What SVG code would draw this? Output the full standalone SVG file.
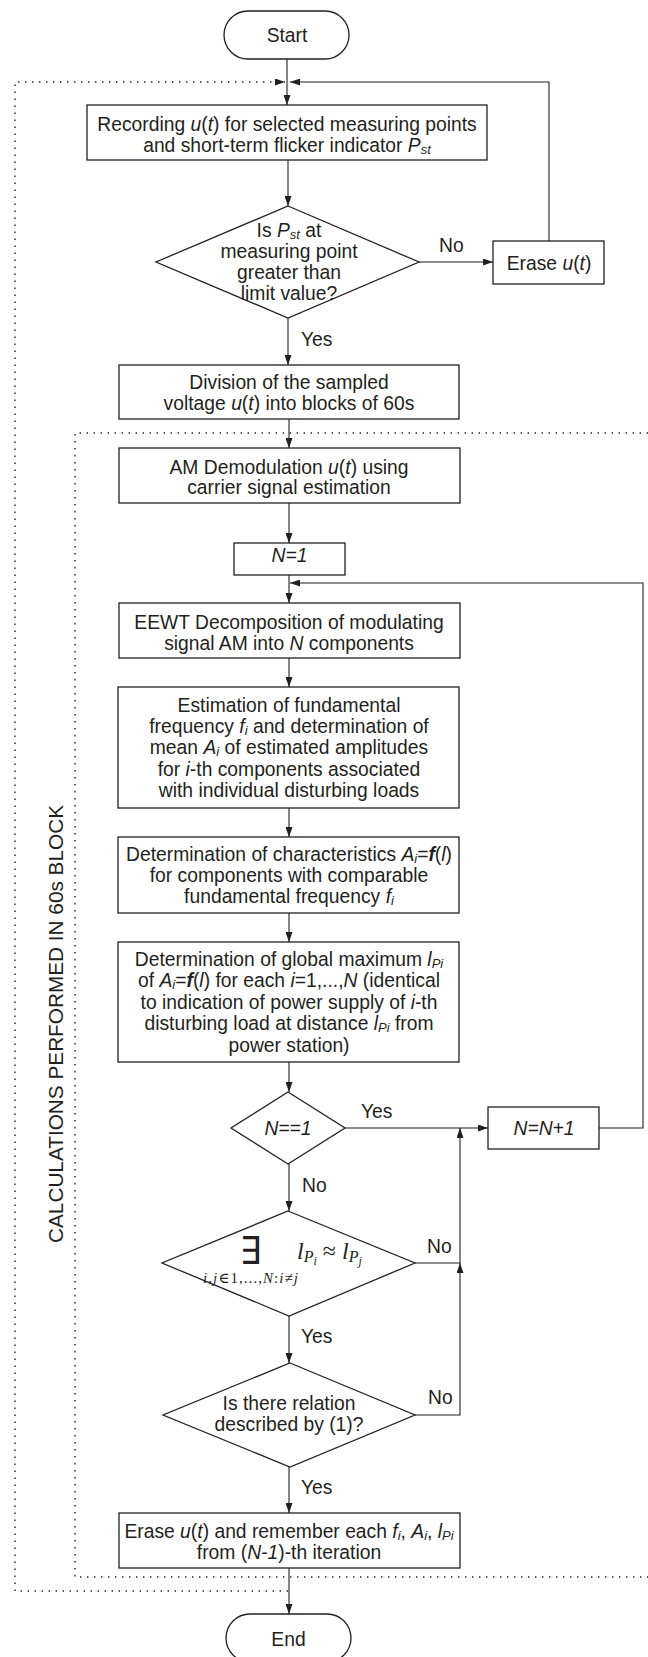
<svg xmlns="http://www.w3.org/2000/svg" width="648" height="1657" viewBox="0 0 648 1657">
  <style>
    .t { font-family: "Liberation Sans", Arial, Helvetica, sans-serif; font-size: 19.3px; fill: #231f20; text-anchor: middle; }
    .l { text-anchor: start; }
    .it { font-style: italic; }
    .bi { font-style: italic; font-weight: bold; }
    .sb { font-style: italic; font-size: 13px; }
    .box { fill: #ffffff; stroke: #231f20; stroke-width: 1.3; }
    .ln { fill: none; stroke: #231f20; stroke-width: 1.1; }
    .dot { fill: none; stroke: #231f20; stroke-width: 1.4; stroke-dasharray: 1.4 5.6; }
    .m { font-family: "Liberation Serif", "DejaVu Serif", serif; fill: #231f20; font-style: italic; }
  </style>
  <defs>
    <marker id="arr" markerUnits="userSpaceOnUse" markerWidth="10" markerHeight="7" refX="10" refY="3.5" orient="auto">
      <path d="M0,0 L10,3.5 L0,7 Z" fill="#231f20"/>
    </marker>
  </defs>

  <rect width="648" height="1657" fill="#ffffff"/>

  <!-- block frames -->
  <g id="frames">
    <path class="dot" d="M288,1591 H15 V82 H285" marker-end="url(#arr)"/>
    <path class="dot" d="M648,433 H75 V1577 H648"/>
    <text class="t" x="63" y="1024" font-size="20.5" textLength="438" lengthAdjust="spacingAndGlyphs" transform="rotate(-90 63 1024)">CALCULATIONS PERFORMED IN 60s BLOCK</text>
  </g>

  <!-- connectors -->
  <g id="connectors">
    <path class="ln" d="M287,59 V105" marker-end="url(#arr)"/>
    <path class="ln" d="M549,241 V82 H290" marker-end="url(#arr)"/>
    <path class="ln" d="M288,160 V206" marker-end="url(#arr)"/>
    <path class="ln" d="M419,262 H493" marker-end="url(#arr)"/>
    <path class="ln" d="M288,318 V365" marker-end="url(#arr)"/>
    <path class="ln" d="M289,419 V448" marker-end="url(#arr)"/>
    <path class="ln" d="M289,503 V543" marker-end="url(#arr)"/>
    <path class="ln" d="M289,575 V603" marker-end="url(#arr)"/>
    <path class="ln" d="M599,1128 H643 V583 H290" marker-end="url(#arr)"/>
    <path class="ln" d="M289,658 V687" marker-end="url(#arr)"/>
    <path class="ln" d="M289,808 V837" marker-end="url(#arr)"/>
    <path class="ln" d="M289,913 V942" marker-end="url(#arr)"/>
    <path class="ln" d="M289,1062 V1092" marker-end="url(#arr)"/>
    <path class="ln" d="M345,1128 H488" marker-end="url(#arr)"/>
    <path class="ln" d="M289,1164 V1211" marker-end="url(#arr)"/>
    <path class="ln" d="M415,1263 H460 V1128" marker-end="url(#arr)"/>
    <path class="ln" d="M289,1316 V1363" marker-end="url(#arr)"/>
    <path class="ln" d="M415,1415 H460 V1263" marker-end="url(#arr)"/>
    <path class="ln" d="M289,1467 V1513" marker-end="url(#arr)"/>
    <path class="ln" d="M289,1568 V1614" marker-end="url(#arr)"/>
    <text class="t l" x="439" y="252">No</text>
    <text class="t l" x="301" y="346">Yes</text>
    <text class="t l" x="361" y="1118">Yes</text>
    <text class="t l" x="302" y="1192">No</text>
    <text class="t l" x="427" y="1253">No</text>
    <text class="t l" x="301" y="1343">Yes</text>
    <text class="t l" x="428" y="1404">No</text>
    <text class="t l" x="301" y="1494">Yes</text>
  </g>

  <g id="start">
    <rect class="box" x="224" y="11" width="125" height="48" rx="24" ry="24"/>
    <text class="t" x="287" y="41.5">Start</text>
  </g>

  <g id="recording">
    <rect class="box" x="87" y="105" width="400" height="55"/>
    <text class="t" x="287" y="130.5">Recording <tspan class="it">u</tspan>(<tspan class="it">t</tspan>) for selected measuring points</text>
    <text class="t" x="287" y="151.5">and short-term flicker indicator <tspan class="it">P</tspan><tspan class="sb" dy="2">st</tspan></text>
  </g>

  <g id="pst-check">
    <polygon class="box" points="288,206 419,262 288,318 156,262"/>
    <text class="t" x="289" y="236.5">Is <tspan class="it">P</tspan><tspan class="sb" dy="2">st</tspan><tspan dy="-2"> at</tspan></text>
    <text class="t" x="289" y="258">measuring point</text>
    <text class="t" x="289" y="279">greater than</text>
    <text class="t" x="289" y="300">limit value?</text>
  </g>

  <g id="erase">
    <rect class="box" x="493" y="241" width="111" height="43"/>
    <text class="t" x="549" y="269.5">Erase <tspan class="it">u</tspan>(<tspan class="it">t</tspan>)</text>
  </g>

  <g id="division">
    <rect class="box" x="119" y="365" width="340" height="54"/>
    <text class="t" x="289" y="388.5">Division of the sampled</text>
    <text class="t" x="289" y="409.5">voltage <tspan class="it">u</tspan>(<tspan class="it">t</tspan>) into blocks of 60s</text>
  </g>

  <g id="demodulation">
    <rect class="box" x="119" y="448" width="341" height="55"/>
    <text class="t" x="289" y="473.5">AM Demodulation <tspan class="it">u</tspan>(<tspan class="it">t</tspan>) using</text>
    <text class="t" x="289" y="494">carrier signal estimation</text>
  </g>

  <g id="n-init">
    <rect class="box" x="234" y="543" width="111" height="32"/>
    <text class="t it" x="289.5" y="561.5">N=1</text>
  </g>

  <g id="eewt">
    <rect class="box" x="119" y="603" width="341" height="55"/>
    <text class="t" x="289" y="628.5">EEWT Decomposition of modulating</text>
    <text class="t" x="289" y="649.5">signal AM into <tspan class="it">N</tspan> components</text>
  </g>

  <g id="estimation">
    <rect class="box" x="118" y="687" width="341" height="121"/>
    <text class="t" x="289" y="711.5">Estimation of fundamental</text>
    <text class="t" x="289" y="732.5">frequency <tspan class="it">f</tspan><tspan class="sb" dy="2">i</tspan><tspan dy="-2"> and determination of</tspan></text>
    <text class="t" x="289" y="754">mean <tspan class="it">A</tspan><tspan class="sb" dy="2">i</tspan><tspan dy="-2"> of estimated amplitudes</tspan></text>
    <text class="t" x="289" y="775.5">for <tspan class="it">i</tspan>-th components associated</text>
    <text class="t" x="289" y="796.5">with individual disturbing loads</text>
  </g>

  <g id="characteristics">
    <rect class="box" x="118" y="837" width="341" height="76"/>
    <text class="t" x="289" y="860.5">Determination of characteristics <tspan class="it">A</tspan><tspan class="sb" dy="2">i</tspan><tspan dy="-2">=</tspan><tspan class="bi">f</tspan>(<tspan class="it">l</tspan>)</text>
    <text class="t" x="289" y="882">for components with comparable</text>
    <text class="t" x="289" y="903">fundamental frequency <tspan class="it">f</tspan><tspan class="sb" dy="2">i</tspan></text>
  </g>

  <g id="global-maximum">
    <rect class="box" x="118" y="942" width="341" height="120"/>
    <text class="t" x="289" y="965.5">Determination of global maximum <tspan class="it">l</tspan><tspan class="sb" dy="2">Pi</tspan></text>
    <text class="t" x="289" y="987">of <tspan class="it">A</tspan><tspan class="sb" dy="2">i</tspan><tspan dy="-2">=</tspan><tspan class="bi">f</tspan>(<tspan class="it">l</tspan>) for each <tspan class="it">i</tspan>=1,...,<tspan class="it">N</tspan> (identical</text>
    <text class="t" x="289" y="1008.5">to indication of power supply of <tspan class="it">i</tspan>-th</text>
    <text class="t" x="289" y="1030">disturbing load at distance <tspan class="it">l</tspan><tspan class="sb" dy="2">Pi</tspan><tspan dy="-2"> from</tspan></text>
    <text class="t" x="289" y="1051.5">power station)</text>
  </g>

  <g id="n-check">
    <polygon class="box" points="288,1092 345,1128 288,1164 231,1128"/>
    <text class="t it" x="288" y="1134.5">N==1</text>
  </g>

  <g id="n-increment">
    <rect class="box" x="488" y="1107" width="111" height="42"/>
    <text class="t it" x="544" y="1134.5">N=N+1</text>
  </g>

  <g id="exists-check">
    <polygon class="box" points="288,1211 415,1263 289,1316 162,1263"/>
    <!-- tall existential quantifier, stretched vertically -->
    <text transform="translate(250.5,1264) scale(1.15,1.3)" x="0" y="0" font-family="'DejaVu Sans', sans-serif" font-size="29.5" fill="#231f20" text-anchor="middle">∃</text>
    <text class="m" x="250.5" y="1283" font-size="15" text-anchor="middle" textLength="95" lengthAdjust="spacing">i<tspan font-style="normal">,</tspan>j<tspan font-style="normal">∈1,...,</tspan>N<tspan font-style="normal">:</tspan>i<tspan font-style="normal">≠</tspan>j</text>
    <text class="m" x="297" y="1259" font-size="24">l<tspan font-size="16" dy="3">P</tspan><tspan font-size="12" dy="3">i</tspan><tspan font-size="24" font-style="normal" dy="-6"> ≈ </tspan>l<tspan font-size="16" dy="3">P</tspan><tspan font-size="12" dy="3">j</tspan></text>
  </g>

  <g id="relation-check">
    <polygon class="box" points="290,1363 415,1415 290,1467 163,1415"/>
    <text class="t" x="289" y="1409.5">Is there relation</text>
    <text class="t" x="289" y="1430.5">described by (1)?</text>
  </g>

  <g id="remember">
    <rect class="box" x="119" y="1513" width="341" height="55"/>
    <text class="t" x="289" y="1537.5">Erase <tspan class="it">u</tspan>(<tspan class="it">t</tspan>) and remember each <tspan class="it">f</tspan><tspan class="sb" dy="2">i</tspan><tspan dy="-2">, </tspan><tspan class="it">A</tspan><tspan class="sb" dy="2">i</tspan><tspan dy="-2">, </tspan><tspan class="it">l</tspan><tspan class="sb" dy="2">Pi</tspan></text>
    <text class="t" x="289" y="1558.5">from (<tspan class="it">N-1</tspan>)-th iteration</text>
  </g>

  <g id="end">
    <rect class="box" x="226" y="1614" width="125" height="48" rx="24" ry="24"/>
    <text class="t" x="288.5" y="1645.5">End</text>
  </g>
</svg>
